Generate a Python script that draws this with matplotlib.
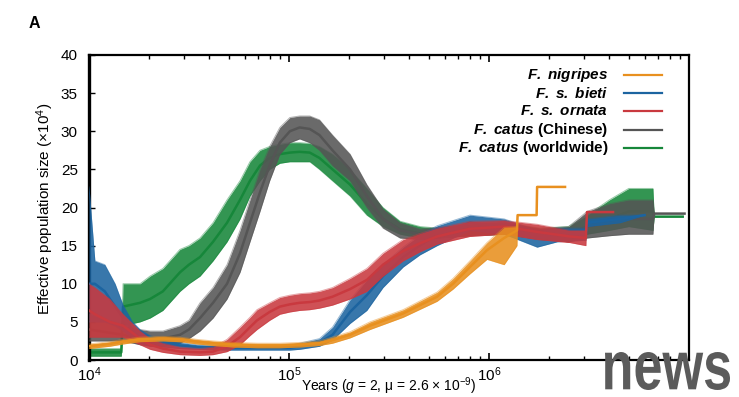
import numpy as np
import matplotlib
matplotlib.use("Agg")
import matplotlib.pyplot as plt
import matplotlib.transforms as mtransforms
from matplotlib.textpath import TextPath
from matplotlib.patches import PathPatch
from matplotlib.font_manager import FontProperties

plt.rcParams['font.family'] = ['Liberation Sans', 'DejaVu Sans']
plt.rcParams['mathtext.fontset'] = 'custom'
plt.rcParams['mathtext.rm'] = 'Liberation Sans'
plt.rcParams['mathtext.it'] = 'Liberation Sans:italic'
plt.rcParams['mathtext.bf'] = 'Liberation Sans:bold'
plt.rcParams['mathtext.bfit'] = 'Liberation Sans:bold:italic'

# PSMC curves: years, centre, lower and upper edge of the bootstrap band (x10^4)
green_years = [1.0e4, 1.45e4, 1.48e4, 1.80e4, 2.02e4, 2.34e4, 2.85e4, 3.16e4, 3.59e4, 4.17e4, 4.90e4,
               5.69e4, 6.38e4, 7.16e4, 8.0e4, 9.0e4, 1.01e5, 1.13e5, 1.27e5, 1.42e5, 1.65e5, 2.02e5,
               2.45e5, 2.95e5, 3.59e5, 4.52e5, 5.50e5, 8.0e5, 1.2e6, 1.8e6, 2.5e6, 3.1e6, 4.0e6, 5.0e6,
               6.6e6, 6.7e6, 9.3e6]
green_mid = [1.0, 1.0, 7.0, 7.5, 8.0, 9.0, 11.5, 12.5, 13.5, 15.5, 18.0, 21.0, 23.5, 25.5, 26.5, 27.0,
             27.2, 27.3, 27.2, 26.5, 25.0, 23.0, 20.5, 18.5, 17.2, 16.6, 16.6, 17.0, 17.3, 16.5, 16.5,
             17.5, 18.5, 19.5, 19.5, 18.8, 18.8]
green_lo = [0.5, 0.5, 4.5, 5.0, 5.5, 6.5, 9.0, 10.0, 11.0, 13.0, 15.5, 18.5, 21.5, 23.5, 25.0, 25.8,
            26.0, 26.0, 26.0, 25.0, 23.5, 21.5, 19.0, 17.5, 16.5, 16.0, 16.0, 16.3, 16.5, 15.8, 15.5,
            16.5, 17.0, 17.5, 17.0, 18.8, 18.8]
green_hi = [1.5, 1.5, 10.0, 10.0, 11.0, 12.0, 14.5, 15.0, 16.0, 18.0, 21.0, 23.5, 26.0, 27.5, 28.0, 28.3,
            28.5, 28.5, 28.4, 28.0, 27.0, 25.0, 22.5, 20.0, 18.2, 17.5, 17.3, 17.8, 18.0, 17.3, 17.5,
            19.0, 21.0, 22.5, 22.5, 18.8, 18.8]

grey_years = [1.0e4, 1.48e4, 1.80e4, 2.02e4, 2.34e4, 2.85e4, 3.16e4, 3.59e4, 4.17e4, 4.90e4, 5.69e4,
              6.38e4, 7.16e4, 8.0e4, 9.0e4, 1.01e5, 1.13e5, 1.27e5, 1.42e5, 1.65e5, 2.02e5, 2.45e5,
              2.95e5, 3.59e5, 4.52e5, 8.0e5, 1.2e6, 1.8e6, 2.5e6, 3.1e6, 4.0e6, 5.0e6, 6.6e6, 6.7e6, 9.5e6]
grey_mid = [4.0, 3.3, 2.8, 2.7, 2.8, 3.3, 4.0, 5.5, 7.5, 10.0, 14.0, 18.0, 22.0, 25.5, 28.5, 30.0, 30.5,
            30.3, 29.5, 27.5, 25.0, 21.5, 18.5, 17.0, 16.5, 17.0, 17.2, 16.5, 16.5, 17.5, 18.0, 18.5,
            18.5, 19.2, 19.2]
grey_lo = [2.5, 2.5, 2.0, 1.8, 1.8, 2.2, 2.8, 3.8, 5.5, 8.0, 11.5, 15.5, 19.5, 23.5, 27.0, 28.5, 29.0,
           28.5, 27.5, 25.5, 23.5, 20.0, 17.3, 16.0, 15.8, 16.3, 16.5, 15.8, 15.5, 16.0, 16.3, 16.5,
           16.5, 19.2, 19.2]
grey_hi = [6.0, 4.5, 4.0, 3.8, 3.8, 4.5, 5.2, 7.5, 9.5, 12.5, 17.0, 21.0, 25.0, 28.0, 30.5, 31.8, 32.0,
           32.0, 31.5, 29.5, 27.0, 23.0, 19.8, 18.0, 17.2, 17.7, 18.0, 17.2, 17.5, 19.5, 20.5, 21.0,
           21.0, 19.2, 19.2]

blue_years = [1.0e4, 1.07e4, 1.20e4, 1.35e4, 1.48e4, 1.65e4, 1.80e4, 2.02e4, 2.34e4, 2.85e4, 3.47e4,
              5.0e4, 1.01e5, 1.13e5, 1.42e5, 1.65e5, 2.02e5, 2.45e5, 2.95e5, 3.72e5, 4.52e5, 5.50e5,
              8.03e5, 1.19e6, 1.74e6, 2.19e6, 3.05e6, 3.09e6, 4.52e6, 6.0e6]
blue_mid = [10.0, 10.0, 9.0, 7.0, 5.5, 4.0, 3.0, 2.5, 2.2, 1.9, 1.7, 1.6, 1.6, 1.8, 2.3, 3.3, 6.3, 8.5,
            11.0, 13.5, 15.0, 16.4, 18.0, 17.5, 16.0, 16.5, 16.5, 18.0, 18.5, 19.0]
blue_lo = [5.0, 5.0, 5.0, 4.5, 3.8, 2.8, 2.2, 1.9, 1.7, 1.5, 1.4, 1.3, 1.3, 1.4, 1.8, 2.6, 4.8, 6.5,
           9.5, 12.2, 13.8, 15.0, 17.0, 16.5, 14.8, 15.5, 15.7, 17.5, 18.0, 19.0]
blue_hi = [22.7, 13.0, 12.5, 10.0, 7.2, 5.0, 4.0, 3.2, 2.6, 2.3, 2.0, 1.9, 1.9, 2.2, 2.8, 4.3, 7.9, 10.5,
           12.5, 14.8, 16.4, 17.6, 19.0, 18.5, 17.0, 17.3, 17.3, 18.5, 19.0, 19.0]

red_years = [1.0e4, 1.07e4, 1.27e4, 1.48e4, 1.80e4, 2.02e4, 2.34e4, 2.85e4, 3.59e4, 4.17e4, 4.90e4,
             5.69e4, 6.38e4, 6.92e4, 8.0e4, 9.0e4, 1.01e5, 1.13e5, 1.27e5, 1.42e5, 1.65e5, 2.02e5,
             2.45e5, 2.95e5, 3.72e5, 4.52e5, 5.50e5, 8.0e5, 1.19e6, 1.74e6, 2.54e6, 3.05e6, 3.09e6, 4.17e6]
red_mid = [6.5, 6.0, 5.0, 4.5, 2.8, 2.0, 1.5, 1.1, 1.0, 1.1, 1.8, 3.0, 4.3, 5.2, 6.3, 7.0, 7.3, 7.5, 7.6,
           7.8, 8.3, 9.3, 10.5, 12.5, 14.3, 15.3, 16.2, 17.2, 17.5, 16.8, 16.2, 16.0, 19.4, 19.4]
red_lo = [3.0, 3.0, 3.0, 3.0, 2.0, 1.4, 1.0, 0.7, 0.6, 0.7, 1.1, 2.0, 3.2, 4.0, 5.2, 6.0, 6.3, 6.5, 6.6,
          6.8, 7.2, 8.0, 9.0, 11.0, 13.0, 14.2, 15.2, 16.2, 16.5, 15.8, 15.4, 15.0, 19.4, 19.4]
red_hi = [10.0, 9.5, 8.0, 6.0, 3.8, 2.8, 2.2, 1.7, 1.5, 1.7, 2.7, 4.3, 5.6, 6.6, 7.5, 8.2, 8.5, 8.7, 8.8,
          9.0, 9.5, 10.7, 12.0, 14.0, 15.8, 16.6, 17.3, 18.2, 18.3, 17.8, 17.0, 17.0, 19.4, 19.4]

orange_years = [1.0e4, 1.27e4, 1.48e4, 1.80e4, 2.34e4, 2.85e4, 3.47e4, 4.17e4, 5.25e4, 6.92e4, 9.0e4,
                1.13e5, 1.42e5, 1.65e5, 2.02e5, 2.54e5, 3.72e5, 5.50e5, 6.61e5, 8.03e5, 9.77e5, 1.19e6,
                1.38e6, 1.39e6, 1.73e6, 1.74e6, 2.40e6]
orange_mid = [1.8, 2.1, 2.4, 2.7, 2.8, 2.7, 2.4, 2.2, 2.0, 1.9, 1.9, 2.0, 2.2, 2.6, 3.3, 4.5, 6.1, 8.3,
              10.0, 12.2, 14.4, 16.0, 17.0, 19.0, 19.0, 22.7, 22.7]
orange_lo = [1.5, 1.8, 2.1, 2.4, 2.5, 2.4, 2.1, 1.9, 1.7, 1.6, 1.6, 1.7, 1.9, 2.2, 2.9, 4.0, 5.6, 7.7,
             9.3, 11.3, 13.2, 12.5, 15.0, 19.0, 19.0, 22.7, 22.7]
orange_hi = [2.1, 2.4, 2.7, 3.0, 3.1, 3.0, 2.7, 2.5, 2.3, 2.2, 2.2, 2.3, 2.5, 3.0, 3.7, 5.0, 6.6, 8.9,
             10.7, 13.0, 15.4, 17.4, 17.5, 19.0, 19.0, 22.7, 22.7]

fig = plt.figure(figsize=(7.39, 3.97), dpi=100)
ax = fig.add_axes([89 / 739, 1 - 360 / 397, 600 / 739, 305 / 397])

# drawn bottom to top: green, grey, blue, red, orange
series = [
    (green_years, green_mid, green_lo, green_hi, '#16873a'),
    (grey_years, grey_mid, grey_lo, grey_hi, '#555555'),
    (blue_years, blue_mid, blue_lo, blue_hi, '#1c64a0'),
    (red_years, red_mid, red_lo, red_hi, '#c9393f'),
    (orange_years, orange_mid, orange_lo, orange_hi, '#e8901f'),
]
for i, (yrs, mid, lo, hi, col) in enumerate(series):
    ax.fill_between(yrs, lo, hi, color=col, alpha=0.88, lw=0, zorder=2 + i)
    ax.plot(yrs, lo, color=col, lw=0.7, alpha=0.45, zorder=2 + i)
    ax.plot(yrs, hi, color=col, lw=0.7, alpha=0.45, zorder=2 + i)
    ax.plot(yrs, mid, color=col, lw=1.8, zorder=2 + i)

ax.set_xscale('log')
ax.set_xlim(1e4, 1e7)
ax.set_ylim(0, 40)
ax.set_xticks([1e4, 1e5, 1e6])
ax.set_yticks(range(0, 41, 5))
ax.tick_params(axis='both', which='both', direction='in', labelsize=11)
ax.tick_params(axis='x', which='both', top=True)
ax.tick_params(axis='x', which='major', length=5, width=1.2, pad=4)
ax.tick_params(axis='x', which='minor', length=3, width=1)
ax.tick_params(axis='y', which='major', length=4, width=1, pad=8, right=False)
for sp in ax.spines.values():
    sp.set_linewidth(1.6)
ax.spines['left'].set_linewidth(2.4)

# legend drawn by hand: label right-aligned, line sample to the right
leg_colors = ['#e8901f', '#1c64a0', '#c9393f', '#555555', '#16873a']
leg_rows = [0.934, 0.875, 0.816, 0.754, 0.695]
leg_text = [r"$\mathbfit{F.\ nigripes}$", r"$\mathbfit{F.\ s.\ bieti}$", r"$\mathbfit{F.\ s.\ ornata}$",
            r"$\mathbfit{F.\ catus}$ (Chinese)", r"$\mathbfit{F.\ catus}$ (worldwide)"]
for txt, col, yy in zip(leg_text, leg_colors, leg_rows):
    ax.text(0.865, yy, txt, transform=ax.transAxes, ha='right', va='center',
            fontsize=11, fontweight='bold', zorder=10)
    ax.plot([0.892, 0.955], [yy, yy], transform=ax.transAxes, color=col, lw=1.6, zorder=10)

fig.text(45 / 739, 1 - 209 / 397, r"Effective population size (×10$^{4}$)", rotation=90,
         ha='center', va='center', fontsize=11)
fig.text(389 / 739, 0.0, r"Years ($g$ = 2, μ = 2.6 × 10$^{-9}$)",
         ha='center', va='bottom', fontsize=10)
fig.text(29 / 739, 1 - 16 / 397, "A", ha='left', va='top', fontsize=11.5, fontweight='bold')

# "news" watermark in the bottom right corner
tp = TextPath((0, 0), "news", size=1, prop=FontProperties(family='Liberation Sans', weight='bold'))
ext = tp.get_extents()
sx = 125 / ext.width
sy = 38 / ext.height
tr = mtransforms.Affine2D().translate(-ext.x0, -ext.y0).scale(sx, sy).translate(605, 7)
wm = PathPatch(tp, transform=tr, color='#5b5b5b', lw=0, zorder=20)
fig.add_artist(wm)

fig.savefig("out.png", dpi=100)
